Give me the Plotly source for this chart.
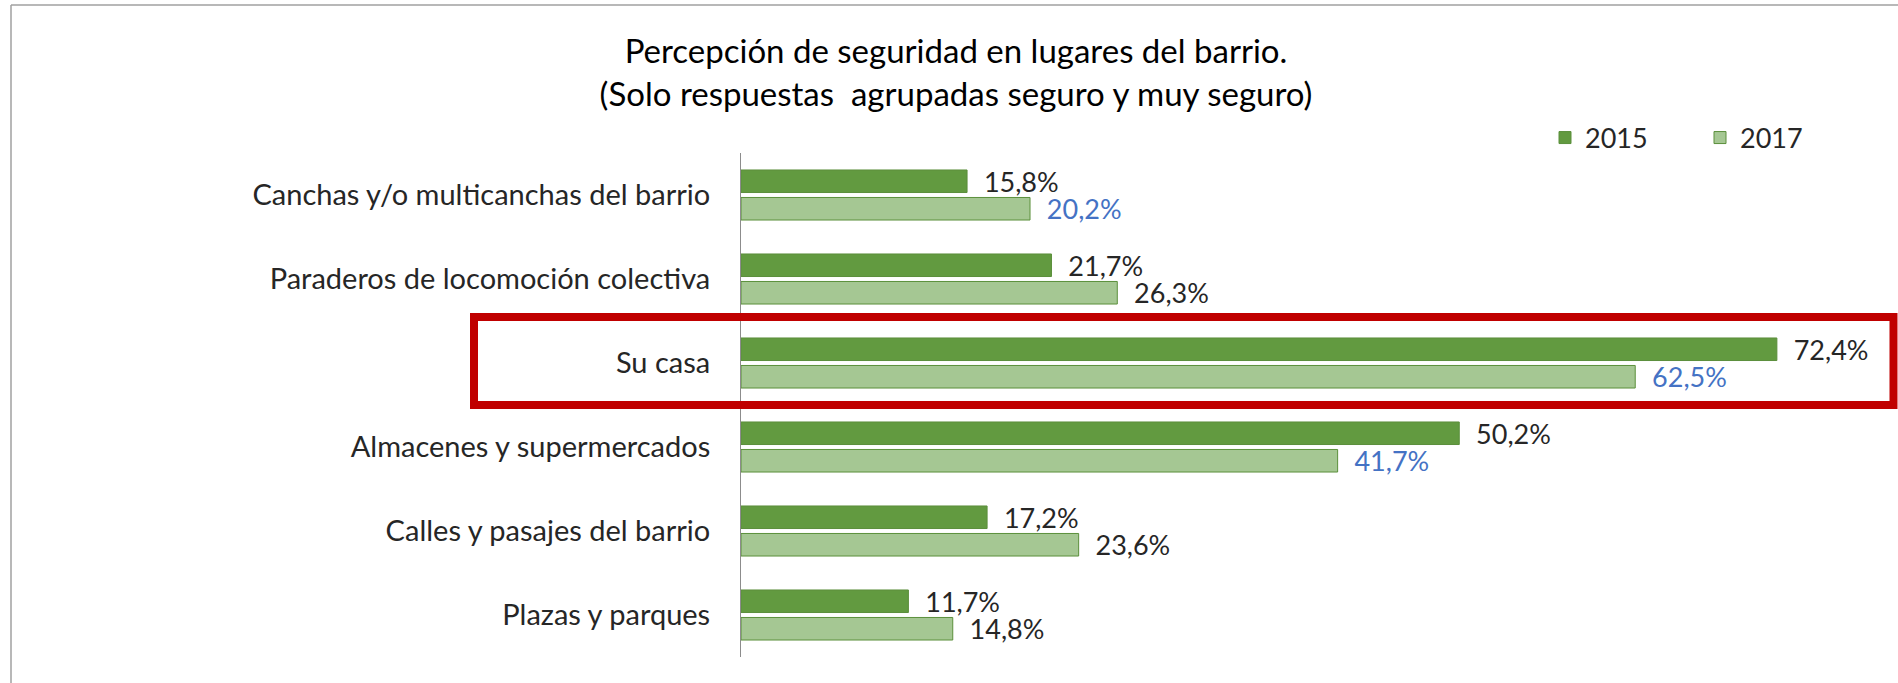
import plotly.graph_objects as go

categories = [
    "Canchas y/o multicanchas del barrio",
    "Paraderos de locomoción colectiva",
    "Su casa",
    "Almacenes y supermercados",
    "Calles y pasajes del barrio",
    "Plazas y parques",
]
values_2015 = [15.8, 21.7, 72.4, 50.2, 17.2, 11.7]
values_2017 = [20.2, 26.3, 62.5, 41.7, 23.6, 14.8]
label_colors_2015 = ["#262626"] * 6
label_colors_2017 = ["#4472C4", "#262626", "#4472C4", "#4472C4", "#262626", "#262626"]

W, H = 1898, 683
PL, PR, PT, PB = 741, 1857, 153, 657  # plot area in pixels
XMAX = 78


def px(x):
    return (x - PL) / (PR - PL)


def py(y):
    return (PB - y) / (PB - PT)


FONT = "Lato"
DARK = "#629A40"
LIGHT = "#A5C793"
EDGE = "#5B8F3B"

fig = go.Figure()
fig.add_trace(go.Bar(
    name="2015", y=categories, x=values_2015, orientation="h",
    marker=dict(color=DARK, line=dict(color=EDGE, width=1)),
    text=values_2015, texttemplate="  %{x:.1f}%", textposition="outside",
    textfont=dict(family=FONT, size=27, color=label_colors_2015),
    constraintext="none", cliponaxis=False,
))
fig.add_trace(go.Bar(
    name="2017", y=categories, x=values_2017, orientation="h",
    marker=dict(color=LIGHT, line=dict(color=EDGE, width=1)),
    text=values_2017, texttemplate="  %{x:.1f}%", textposition="outside",
    textfont=dict(family=FONT, size=27, color=label_colors_2017),
    constraintext="none", cliponaxis=False,
))

fig.update_layout(
    width=W, height=H,
    margin=dict(l=PL, r=W - PR, t=PT, b=H - PB, pad=0),
    paper_bgcolor="white", plot_bgcolor="white",
    separators=",.",
    barmode="group", bargap=0.345, bargroupgap=0.18,
    font=dict(family=FONT, color="#262626"),
    title=dict(
        text="Percepción de seguridad en lugares del barrio.<br>(Solo respuestas  agrupadas seguro y muy seguro)",
        font=dict(family=FONT, size=33, color="#000000"),
        x=956 / W, xref="container", xanchor="center",
        y=1 - 63 / H, yref="container", yanchor="middle",
    ),
    legend=dict(
        orientation="h", x=px(1855), xanchor="right", y=py(138), yanchor="middle",
        font=dict(family=FONT, size=27, color="#262626"),
        itemwidth=30, traceorder="normal", entrywidth=110, entrywidthmode="pixels",
    ),
    xaxis=dict(range=[0, XMAX], visible=False, showgrid=False, zeroline=False),
    yaxis=dict(
        autorange="reversed", showline=True, linecolor="#8C8C8C", linewidth=1,
        ticks="", showgrid=False, ticklabelstandoff=24,
        tickfont=dict(family=FONT, size=29, color="#262626"),
    ),
    shapes=[
        dict(type="line", xref="paper", yref="paper", x0=px(11), x1=px(W), y0=py(5), y1=py(5),
             line=dict(color="#A0A0A0", width=1.5)),
        dict(type="line", xref="paper", yref="paper", x0=px(11), x1=px(11), y0=py(5), y1=py(H),
             line=dict(color="#A0A0A0", width=1.5)),
        dict(type="rect", xref="paper", yref="paper", x0=px(474), x1=px(1893.5), y0=py(405), y1=py(317),
             line=dict(color="#C00000", width=8)),
    ],
)

fig.write_html(
    "out.html",
    config={"displayModeBar": False},
    post_script="document.body.style.margin='0';document.body.style.overflow='hidden';",
)
